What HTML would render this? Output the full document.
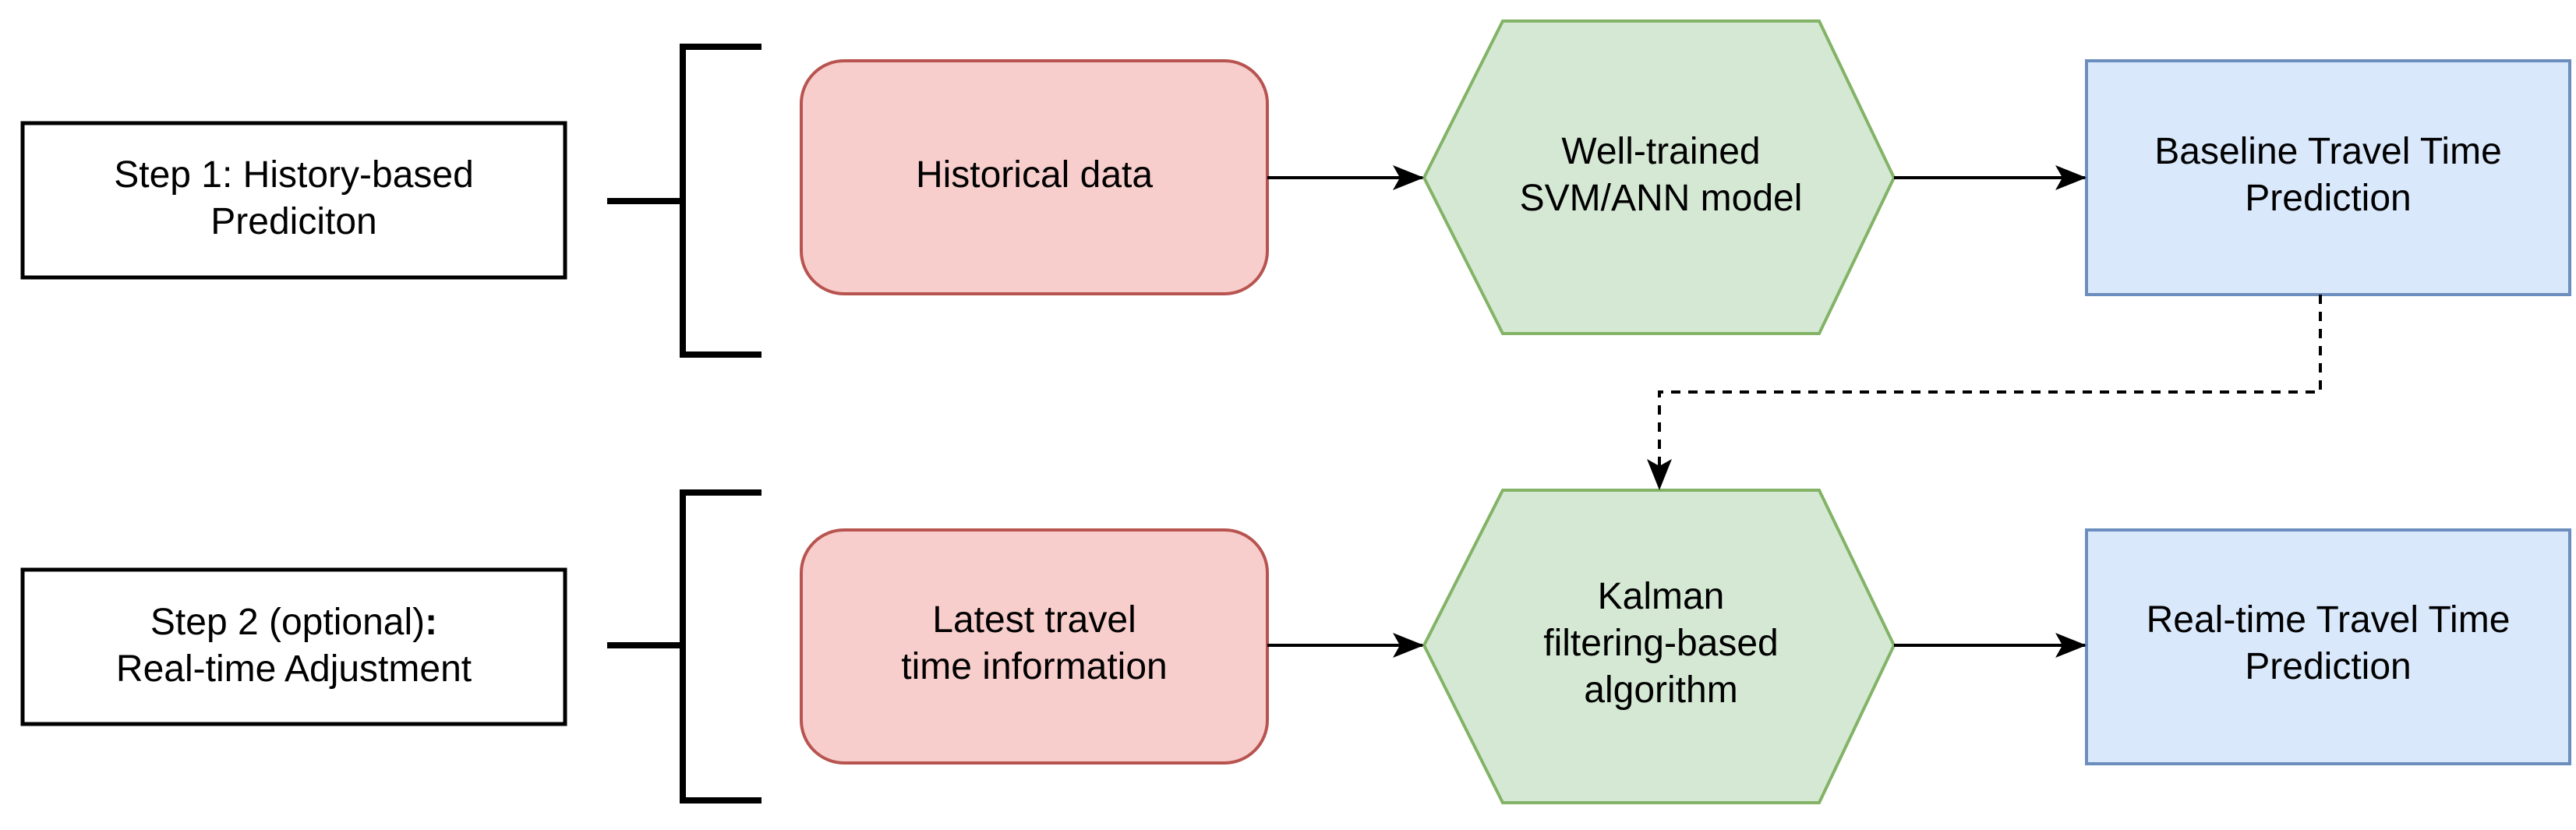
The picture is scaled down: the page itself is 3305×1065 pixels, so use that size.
<!DOCTYPE html>
<html><head><style>body{margin:0;background:#fff}</style></head><body>
<svg width="3305" height="1060" viewBox="0 0 3305 1060" xmlns="http://www.w3.org/2000/svg" style="font-family:'Liberation Sans',Arial,sans-serif" font-size="48" text-anchor="middle">
<defs><marker id="a" markerWidth="40" markerHeight="40" refX="38" refY="20" orient="auto" markerUnits="userSpaceOnUse" viewBox="0 0 40 40"><path d="M0,4 L40,20 L0,36 L9,20 Z" fill="#000"/></marker></defs>
<rect x="29" y="158" width="696" height="198" fill="#fff" stroke="#000" stroke-width="5"/>
<text x="377" y="240">Step 1: History-based</text><text x="377" y="300">Prediciton</text>
<rect x="29" y="731" width="696" height="198" fill="#fff" stroke="#000" stroke-width="5"/>
<text x="377" y="814">Step 2 (optional)<tspan font-weight="bold">:</tspan></text><text x="377" y="874">Real-time Adjustment</text>
<g fill="none" stroke="#000" stroke-width="8">
<path d="M779,258 H876 M977,60 H876 V455 H977"/>
<path d="M779,828 H876 M977,632 H876 V1027 H977"/>
</g>
<rect x="1028" y="78" width="598" height="299" rx="55" fill="#f8cecc" stroke="#b85450" stroke-width="4"/>
<text x="1327" y="240">Historical data</text>
<rect x="1028" y="680" width="598" height="299" rx="55" fill="#f8cecc" stroke="#b85450" stroke-width="4"/>
<text x="1327" y="811">Latest travel</text><text x="1327" y="871">time information</text>
<polygon points="1827,228 1928,27 2334,27 2430,228 2334,428 1928,428" fill="#d5e8d4" stroke="#82b366" stroke-width="4"/>
<text x="2131" y="210">Well-trained</text><text x="2131" y="270">SVM/ANN model</text>
<polygon points="1827,828 1928,629 2334,629 2430,828 2334,1030 1928,1030" fill="#d5e8d4" stroke="#82b366" stroke-width="4"/>
<text x="2131" y="781">Kalman</text><text x="2131" y="841">filtering-based</text><text x="2131" y="901">algorithm</text>
<rect x="2677" y="78" width="620" height="300" fill="#dae8fc" stroke="#6c8ebf" stroke-width="4"/>
<text x="2987" y="210">Baseline Travel Time</text><text x="2987" y="270">Prediction</text>
<rect x="2677" y="680" width="620" height="300" fill="#dae8fc" stroke="#6c8ebf" stroke-width="4"/>
<text x="2987" y="811">Real-time Travel Time</text><text x="2987" y="871">Prediction</text>
<g stroke="#000" stroke-width="4" fill="none">
<path d="M1626,228 H1825" marker-end="url(#a)"/>
<path d="M2430,228 H2675" marker-end="url(#a)"/>
<path d="M1626,828 H1825" marker-end="url(#a)"/>
<path d="M2430,828 H2675" marker-end="url(#a)"/>
<path d="M2977,378 V503 H2129 V627" stroke-dasharray="12,10" marker-end="url(#a)"/>
</g>
</svg>
</body></html>
